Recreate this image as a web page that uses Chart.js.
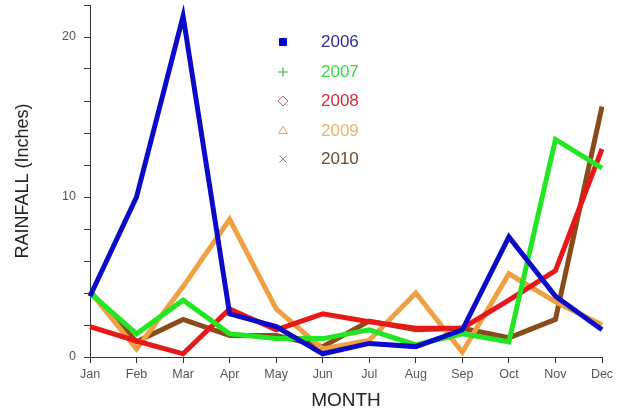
<!DOCTYPE html>
<html>
<head>
<meta charset="utf-8">
<script src="https://cdn.jsdelivr.net/npm/chart.js@4"></script>
<style>
html,body{margin:0;padding:0;background:#fff;}
#wrap{width:618px;height:413px;position:relative;}
</style>
</head>
<body>
<div id="wrap"><canvas id="c" width="618" height="413"></canvas></div>
<script>
const months = ['Jan','Feb','Mar','Apr','May','Jun','Jul','Aug','Sep','Oct','Nov','Dec'];
const years = ['2006','2007','2008','2009','2010'];
const rain2006 = [3.8, 10.0, 21.3, 2.7, 1.9, 0.2, 0.85, 0.65, 1.7, 7.5, 3.8, 1.7];
const rain2007 = [4.0, 1.45, 3.55, 1.45, 1.15, 1.15, 1.7, 0.75, 1.45, 0.95, 13.6, 11.8];
const rain2008 = [1.9, 1.0, 0.2, 3.0, 1.7, 2.7, 2.2, 1.8, 1.8, 3.55, 5.4, 13.0];
const rain2009 = [4.1, 0.5, 4.4, 8.6, 3.0, 0.5, 1.05, 4.0, 0.3, 5.2, 3.45, 2.0];
const rain2010 = [4.1, 0.95, 2.35, 1.35, 1.35, 0.65, 2.25, 1.7, 1.8, 1.2, 2.35, 15.65];
const yLabelTicks = [0, 10, 20];

const lineColors = ['#0a0ac8', '#22e622', '#e81818', '#f0a040', '#8b4a1a'];
const textColors = ['#2c2ca0', '#3bd83b', '#d82a36', '#e9b468', '#6e4a2c'];
const markerColors = ['#0000cc', '#3aa83a', '#b06a6a', '#d6a468', '#8a8a8a'];
const markerStyles = ['rect', 'cross', 'rectRot', 'triangle', 'crossRot'];
const series = [rain2006, rain2007, rain2008, rain2009, rain2010];

const legendPlugin = {
  id: 'customLegend',
  afterDraw(chart) {
    const ctx = chart.ctx;
    const ys = [42, 72, 101, 131, 159];
    ctx.save();
    ctx.font = '17px "Liberation Sans", Arial, sans-serif';
    ctx.textBaseline = 'middle';
    ctx.textAlign = 'left';
    years.forEach((y, i) => {
      const st = markerStyles[i];
      ctx.strokeStyle = markerColors[i];
      ctx.fillStyle = st === 'rect' ? markerColors[i] : 'rgba(255,255,255,0)';
      ctx.lineWidth = 1;
      Chart.helpers.drawPoint(ctx, {
        pointStyle: st,
        radius: 5,
        borderWidth: 1
      }, 283, ys[i]);
      ctx.fillStyle = textColors[i];
      ctx.fillText(y, 321, ys[i]);
    });
    ctx.restore();
  }
};

new Chart(document.getElementById('c'), {
  type: 'line',
  data: {
    labels: months,
    datasets: series.map((d, i) => ({
      label: years[i],
      data: d,
      borderColor: lineColors[i],
      backgroundColor: lineColors[i],
      borderWidth: 5,
      pointRadius: 0,
      tension: 0,
      fill: false
    }))
  },
  options: {
    responsive: false,
    animation: false,
    layout: { padding: { left: 0, right: 16, top: 5, bottom: 0 } },
    plugins: { legend: { display: false }, tooltip: { enabled: false } },
    scales: {
      x: {
        offset: false,
        grid: { display: true, drawOnChartArea: false, drawTicks: true, tickLength: 6, color: '#333' },
        border: { display: true, color: '#333', width: 1 },
        ticks: { color: '#555', font: { family: '"Liberation Sans", Arial, sans-serif', size: 12.5 }, padding: 4, maxRotation: 0, autoSkip: false },
        title: { display: true, text: 'MONTH', color: '#222', font: { family: '"Liberation Sans", Arial, sans-serif', size: 19 }, padding: { top: 0, bottom: 1 } },
        afterFit(s) { s.height = 56; s.paddingLeft = 0; s.paddingRight = 0; }
      },
      y: {
        min: 0, max: 22,
        grid: { display: true, drawOnChartArea: false, drawTicks: true, tickLength: 6, color: '#333' },
        border: { display: true, color: '#333', width: 1 },
        ticks: {
          stepSize: 2,
          color: '#555',
          font: { family: '"Liberation Sans", Arial, sans-serif', size: 12.5 },
          padding: 8,
          callback: (v) => yLabelTicks.includes(v) ? String(v) : ''
        },
        title: { display: true, text: 'RAINFALL (Inches)', color: '#222', font: { family: '"Liberation Sans", Arial, sans-serif', size: 18 }, padding: { top: 12, bottom: 0 } },
        afterFit(s) { s.width = 90; s.paddingTop = 0; s.paddingBottom = 0; }
      }
    }
  },
  plugins: [legendPlugin]
});
</script>
</body>
</html>
